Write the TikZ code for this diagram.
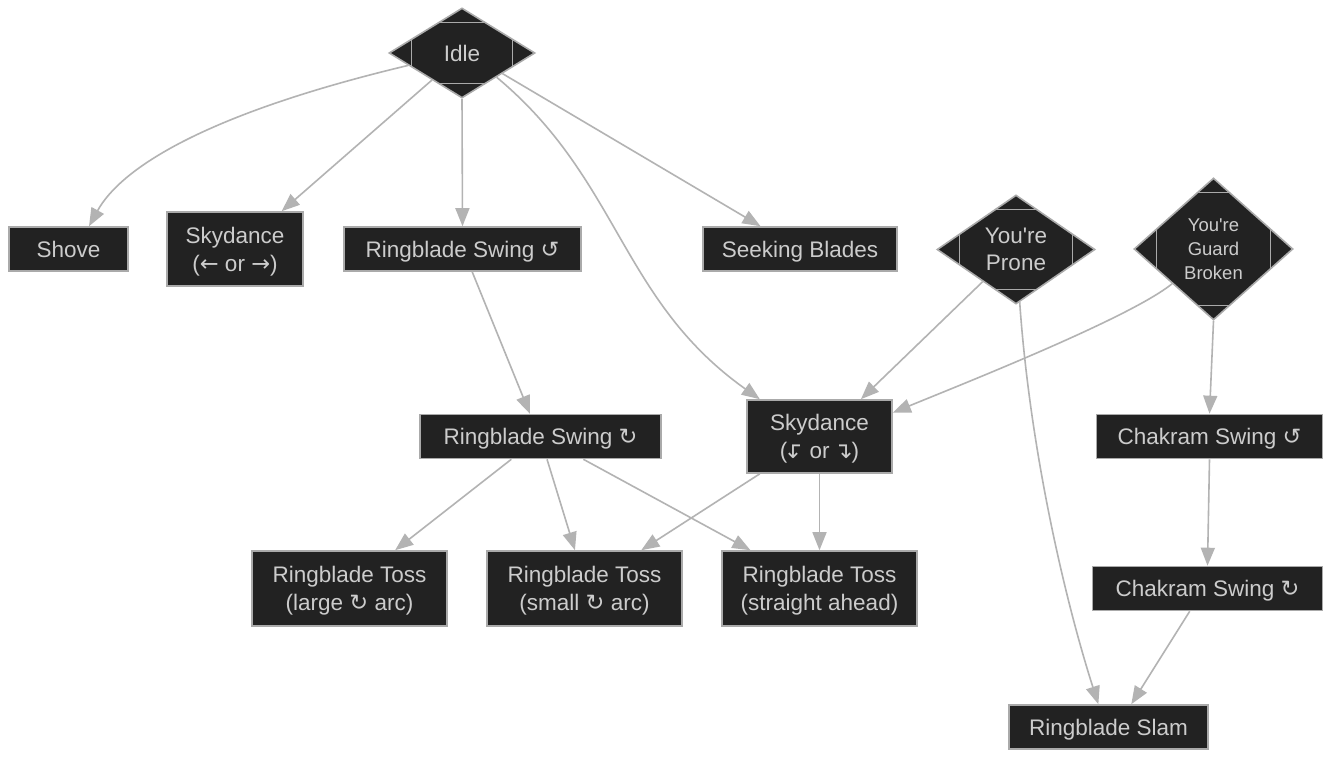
\documentclass[tikz,border=0pt]{standalone}
\usepackage{fontspec}
\usepackage{graphicx}
\setmainfont{Liberation Sans}
\newfontfamily\symfont{DejaVu Sans}
\usepackage{tikz}
\usetikzlibrary{arrows.meta,shapes.geometric,calc}

\definecolor{nodefill}{HTML}{222222}
\definecolor{nodeline}{HTML}{AAAAAA}
\definecolor{nodetext}{HTML}{CCCCCC}
\definecolor{edgeline}{HTML}{B3B3B3}
\newcommand{\ccwsym}{{\symfont ↺}}
\newcommand{\cwsym}{{\symfont ↻}}
\newcommand{\downleft}{\kern-1pt\reflectbox{\symfont ↴}\kern-2pt}
\newcommand{\downright}{\kern-2pt{\symfont ↴}\kern-1pt}

\begin{document}
\begin{tikzpicture}[x=1pt, y=-1pt,
  box/.style={draw=nodeline, fill=nodefill, line width=1.6pt, text=nodetext,
    align=center, minimum height=44pt, inner sep=0pt, text depth=0pt,
    font=\fontsize{22.5}{28}\selectfont},
  tall/.style={minimum height=74pt},
  decide/.style={diamond, draw=nodeline, fill=nodefill, line width=1.6pt,
    text=nodetext, align=center, inner sep=0pt,
    font=\fontsize{22.5}{27}\selectfont,
    path picture={\draw[nodeline, line width=1.6pt]
      ($(path picture bounding box.south west)+(22pt,14pt)$) rectangle
      ($(path picture bounding box.north east)+(-22pt,-14pt)$);}},
  arr/.style={-{Triangle[length=18pt,width=14pt]}, draw=edgeline,
    line width=1.6pt}]
  \fill[white] (0,0) rectangle (1331,759);
  \useasboundingbox (0,0) rectangle (1331,759);

  % top row
  \node[decide, minimum width=146pt, minimum height=90pt] (idle) at (462,53) {Idle};
  \node[box, minimum width=119pt] (shove) at (68.5,249) {Shove};
  \node[box, tall, minimum width=136pt] (skyside) at (235,249)
    {Skydance\\({\symfont ←} or {\symfont →})};
  \node[box, minimum width=237pt] (swingccw) at (462.5,249) {Ringblade Swing \ccwsym};
  \node[box, minimum width=194pt] (seeking) at (800,249) {Seeking Blades};
  \node[decide, minimum width=158pt, minimum height=109pt] (prone) at (1016,249.5)
    {You\textquotesingle re\\Prone};
  \node[decide, minimum width=159pt, minimum height=142pt,
    font=\fontsize{18.5}{24}\selectfont] (guard) at (1213.5,249)
    {You\textquotesingle re\\Guard\\Broken};

  % middle row
  \node[box, minimum width=241pt] (swingcw) at (540.5,436.5) {Ringblade Swing \cwsym};
  \node[box, minimum width=145pt, minimum height=73pt] (skydown) at (819.5,436.5)
    {Skydance\\(\downleft{} or \downright)};
  \node[box, minimum width=226pt] (chakccw) at (1209.5,436.5) {Chakram Swing \ccwsym};

  % bottom rows
  \node[box, minimum width=195pt, minimum height=75pt] (tosslarge) at (349.5,588.5)
    {Ringblade Toss\\(large \cwsym{} arc)};
  \node[box, minimum width=195pt, minimum height=75pt] (tosssmall) at (584.5,588.5)
    {Ringblade Toss\\(small \cwsym{} arc)};
  \node[box, minimum width=195pt, minimum height=75pt] (tossahead) at (819.5,588.5)
    {Ringblade Toss\\(straight ahead)};
  \node[box, minimum width=230pt] (chakcw) at (1207.5,588.5) {Chakram Swing \cwsym};
  \node[box, minimum width=199pt] (slam) at (1108.5,727) {Ringblade Slam};

  % edges
  \draw[arr] (idle.193) .. controls (200,115) and (120,170) .. (shove.48);
  \draw[arr] (idle.222) -- (skyside.39);
  \draw[arr] (idle.south) -- (swingccw.north);
  \draw[arr] (idle.-35) .. controls (620,180) and (620,300) .. (skydown.148);
  \draw[arr] (idle.-27) -- (seeking.150);
  \draw[arr] (swingccw.-67) -- (swingcw.115);
  \draw[arr] (swingcw.218) -- (tosslarge.40);
  \draw[arr] (swingcw.-74) -- (tosssmall.104);
  \draw[arr] (swingcw.-28) -- (tossahead.151);
  \draw[arr] (skydown.212) -- (tosssmall.34);
  \draw[arr] (skydown.south) -- (tossahead.north);
  \draw[arr] (prone.224) -- (skydown.42);
  \draw[arr] (guard.220) .. controls (1130,318) and (960,385) .. (skydown.18);
  \draw[arr] (prone.-86) .. controls (1030,450) and (1065,600) .. (slam.114);
  \draw[arr] (guard.south) -- (chakccw.north);
  \draw[arr] (chakccw.south) -- (chakcw.north);
  \draw[arr] (chakcw.232) -- (slam.45);
\end{tikzpicture}
\end{document}
